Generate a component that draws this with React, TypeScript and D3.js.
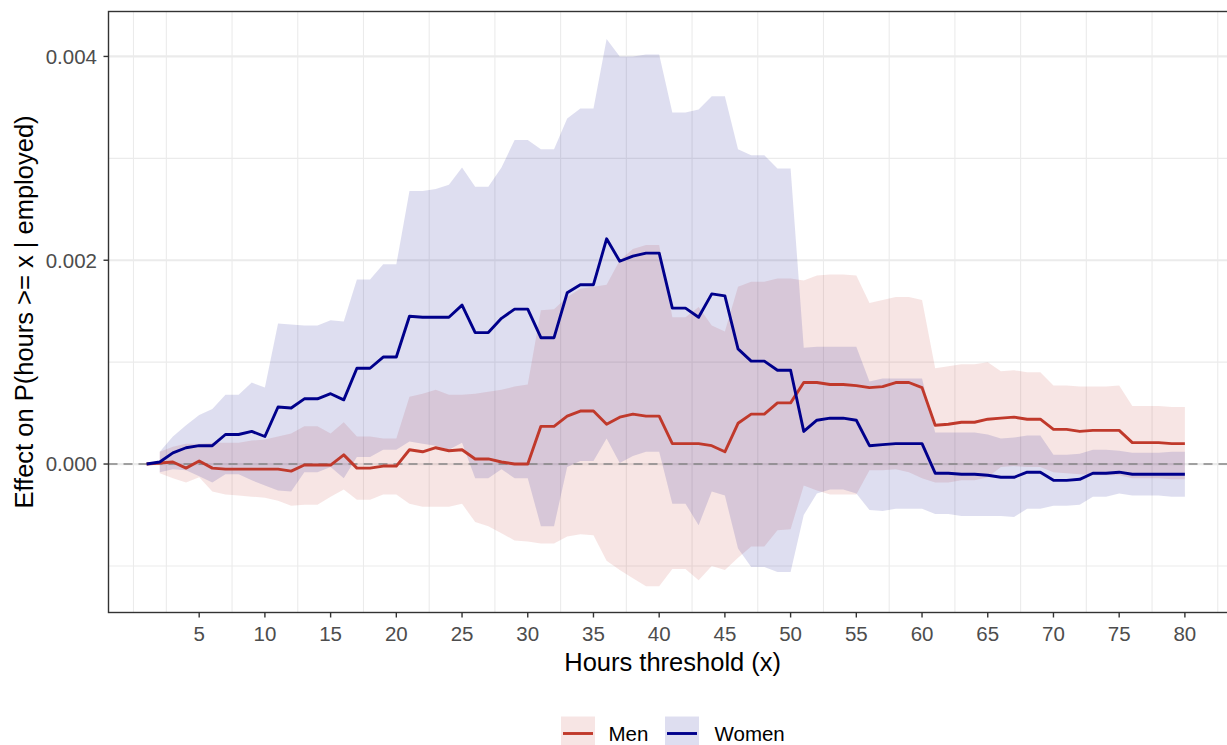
import React from "react";
import * as d3 from "d3";

// Hours threshold x (categories along the horizontal axis)
const hours = [
  1, 2, 3, 4, 5, 6, 7, 8, 9, 10, 11, 12, 13, 14, 15, 16, 17, 18, 19, 20,
  21, 22, 23, 24, 25, 26, 27, 28, 29, 30, 31, 32, 33, 34, 35, 36, 37, 38, 39, 40,
  41, 42, 43, 44, 45, 46, 47, 48, 49, 50, 51, 52, 53, 54, 55, 56, 57, 58, 59, 60,
  61, 62, 63, 64, 65, 66, 67, 68, 69, 70, 71, 72, 73, 74, 75, 76, 77, 78, 79, 80,
];

// Men: point estimate and confidence band
const menEstimate = [
  0, 0.00001, 0.00002, -0.00004, 0.00003, -0.00004, -0.00005, -0.00005, -0.00005, -0.00005,
  -0.00005, -0.00007, -0.00001, -0.00001, -0.00001, 0.00009, -0.00004, -0.00004, -0.00002, -0.00002,
  0.00014, 0.00012, 0.00016, 0.00013, 0.00014, 0.00005, 0.00005, 0.00002, 0, 0,
  0.00037, 0.00037, 0.00047, 0.00052, 0.00052, 0.00039, 0.00046, 0.00049, 0.00047, 0.00047,
  0.0002, 0.0002, 0.0002, 0.00018, 0.00012, 0.0004, 0.00049, 0.00049, 0.0006, 0.0006,
  0.0008, 0.0008, 0.00078, 0.00078, 0.00077, 0.00075, 0.00076, 0.0008, 0.0008, 0.00075,
  0.00038, 0.00039, 0.00041, 0.00041, 0.00044, 0.00045, 0.00046, 0.00044, 0.00044, 0.00034,
  0.00034, 0.00032, 0.00033, 0.00033, 0.00033, 0.00021, 0.00021, 0.00021, 0.0002, 0.0002,
];
const menLower = [
  null, -0.00009, -0.00014, -0.00018, -0.00013, -0.00027, -0.0003, -0.00031, -0.00032, -0.00033,
  -0.00036, -0.00041, -0.0004, -0.0004, -0.00032, -0.00025, -0.00035, -0.00035, -0.0003, -0.0003,
  -0.00039, -0.00042, -0.00042, -0.00042, -0.00039, -0.00057, -0.00061, -0.00068, -0.00075, -0.00076,
  -0.00078, -0.00078, -0.00071, -0.00069, -0.0007, -0.00095, -0.00104, -0.00112, -0.0012, -0.0012,
  -0.00103, -0.00103, -0.00114, -0.001, -0.00104, -0.00092, -0.00081, -0.00081, -0.00065, -0.00064,
  -0.00021, -0.00026, -0.0003, -0.0003, -0.0003, -0.00006, -0.00006, -0.00005, -0.00008, -0.00014,
  -0.00018, -0.00018, -0.00016, -0.00016, -0.00013, -0.00003, -0.00002, -0.00003, -0.00003, -0.00008,
  -0.00009, -0.0001, -0.00011, -0.00011, -0.00011, -0.00014, -0.00014, -0.00014, -0.00015, -0.00015,
];
const menUpper = [
  null, 0.00012, 0.00017, 0.0002, 0.0002, 0.00021, 0.00021, 0.00021, 0.00023, 0.00024,
  0.00027, 0.0003, 0.00037, 0.00037, 0.0003, 0.00041, 0.00027, 0.00027, 0.00025, 0.00025,
  0.00066, 0.00069, 0.00073, 0.00068, 0.00068, 0.00069, 0.00071, 0.00073, 0.00076, 0.00078,
  0.00151, 0.00152, 0.00164, 0.00172, 0.00174, 0.00176, 0.002, 0.00211, 0.00215, 0.00215,
  0.00144, 0.00144, 0.00154, 0.00136, 0.0013, 0.00174, 0.00179, 0.00179, 0.00182, 0.00182,
  0.0018, 0.00185, 0.00186, 0.00186, 0.00185, 0.00158, 0.00161, 0.00164, 0.00164, 0.00161,
  0.00094, 0.00096, 0.00098, 0.00098, 0.001, 0.00091, 0.00092, 0.0009, 0.0009, 0.00077,
  0.00077, 0.00076, 0.00076, 0.00076, 0.00077, 0.00057, 0.00057, 0.00057, 0.00056, 0.00056,
];

// Women: point estimate and confidence band
const womenEstimate = [
  0, 0.00002, 0.00011, 0.00016, 0.00018, 0.00018, 0.00029, 0.00029, 0.00032, 0.00027,
  0.00056, 0.00055, 0.00064, 0.00064, 0.00069, 0.00063, 0.00094, 0.00094, 0.00105, 0.00105,
  0.00145, 0.00144, 0.00144, 0.00144, 0.00156, 0.00129, 0.00129, 0.00143, 0.00152, 0.00152,
  0.00124, 0.00124, 0.00168, 0.00176, 0.00176, 0.00221, 0.00199, 0.00204, 0.00207, 0.00207,
  0.00153, 0.00153, 0.00144, 0.00167, 0.00165, 0.00113, 0.00101, 0.00101, 0.00092, 0.00092,
  0.00032, 0.00043, 0.00045, 0.00045, 0.00043, 0.00018, 0.00019, 0.0002, 0.0002, 0.0002,
  -0.00009, -0.00009, -0.0001, -0.0001, -0.00011, -0.00013, -0.00013, -0.00008, -0.00008, -0.00016,
  -0.00016, -0.00015, -0.00009, -0.00009, -0.00008, -0.0001, -0.0001, -0.0001, -0.0001, -0.0001,
];
const womenLower = [
  null, -0.00008, -0.00005, -0.00006, -0.00012, -0.00018, -0.0001, -0.0001, -0.00016, -0.00021,
  -0.00026, -0.00027, -0.00008, -0.00008, -0.00003, -0.00014, 0.00007, 0.00007, 0.00014, 0.00014,
  0.00022, 0.0002, 0.00018, 0.00014, 0.00021, -0.00014, -0.00014, -0.00005, -0.00014, -0.00014,
  -0.00061, -0.00061, -0.00003, 0.00003, 0.00003, 0.00025, 0.00001, 0.00008, 0.00012, 0.00012,
  -0.00039, -0.00039, -0.0006, -0.00027, -0.00031, -0.00083, -0.00101, -0.00101, -0.00106, -0.00106,
  -0.0005, -0.00029, -0.00025, -0.00025, -0.00029, -0.00045, -0.00046, -0.00044, -0.00044, -0.00044,
  -0.00049, -0.00049, -0.00051, -0.00051, -0.00051, -0.00051, -0.00052, -0.00044, -0.00044, -0.00041,
  -0.00041, -0.0004, -0.00032, -0.00032, -0.00029, -0.00031, -0.00031, -0.00031, -0.00032, -0.00032,
];
const womenUpper = [
  null, 0.00012, 0.00027, 0.00038, 0.00048, 0.00054, 0.00068, 0.00068, 0.0008, 0.00075,
  0.00138, 0.00137, 0.00136, 0.00136, 0.00141, 0.0014, 0.00181, 0.00181, 0.00196, 0.00196,
  0.00268, 0.00268, 0.0027, 0.00274, 0.00291, 0.00272, 0.00272, 0.00291, 0.00318, 0.00318,
  0.00309, 0.00309, 0.00339, 0.00349, 0.00349, 0.00417, 0.004, 0.004, 0.00402, 0.00402,
  0.00345, 0.00345, 0.00348, 0.00361, 0.00361, 0.00309, 0.00303, 0.00303, 0.0029, 0.0029,
  0.00114, 0.00115, 0.00115, 0.00115, 0.00115, 0.00081, 0.00084, 0.00084, 0.00084, 0.00084,
  0.00031, 0.00031, 0.00031, 0.00031, 0.00029, 0.00025, 0.00026, 0.00028, 0.00028, 0.00009,
  0.00009, 0.0001, 0.00014, 0.00014, 0.00013, 0.00011, 0.00011, 0.00011, 0.00012, 0.00012,
];

// Axis ticks and legend entries
const xTickValues = [5, 10, 15, 20, 25, 30, 35, 40, 45, 50, 55, 60, 65, 70, 75, 80];
const yTickValues = [0, 0.002, 0.004];
const yTickLabels = ["0.000", "0.002", "0.004"];
const yMinorValues = [-0.001, 0.001, 0.003];
const xMinorValues = [0, 2.5, 7.5, 12.5, 17.5, 22.5, 27.5, 32.5, 37.5, 42.5, 47.5, 52.5, 57.5, 62.5, 67.5, 72.5, 77.5, 82.5];
const seriesNames = ["Men", "Women"];

const WIDTH = 1227;
const HEIGHT = 745;
const FONT = "'Liberation Sans', Arial, Helvetica, sans-serif";

const MEN_COLOR = "#C0392B";
const WOMEN_COLOR = "#00008B";
const BAND_OPACITY = 0.13;

export default function App() {
  const left = 108.5;
  const right = 1236.8;
  const top = 11.5;
  const bottom = 612.5;

  const x = d3.scaleLinear().domain([-1.9, 83.95]).range([left, right]);
  const y = d3.scaleLinear().domain([-0.001457, 0.004441]).range([bottom, top]);

  const idx = d3.range(hours.length);

  const band = (lo: (number | null)[], hi: (number | null)[]) =>
    d3
      .area<number>()
      .defined((i) => lo[i] != null && hi[i] != null)
      .x((i) => x(hours[i]))
      .y0((i) => y(lo[i] as number))
      .y1((i) => y(hi[i] as number))(idx) || "";

  const line = (v: number[]) =>
    d3
      .line<number>()
      .x((i) => x(hours[i]))
      .y((i) => y(v[i]))(idx) || "";

  const series = [
    { name: seriesNames[0], color: MEN_COLOR, est: menEstimate, lo: menLower, hi: menUpper },
    { name: seriesNames[1], color: WOMEN_COLOR, est: womenEstimate, lo: womenLower, hi: womenUpper },
  ];

  const legendKeyX = [561, 665];
  const legendTextX = [608.5, 714.5];

  return (
    <svg
      width={WIDTH}
      height={HEIGHT}
      style={{ position: "absolute", left: 0, top: 0, display: "block" }}
      fontFamily={FONT}
    >
      <defs>
        <clipPath id="panel-clip">
          <rect x={left} y={top} width={right - left} height={bottom - top} />
        </clipPath>
      </defs>
      <rect x={0} y={0} width={WIDTH} height={HEIGHT} fill="#ffffff" />

      {/* grid */}
      <g clipPath="url(#panel-clip)">
        {xMinorValues.map((v) => (
          <line key={"xm" + v} x1={x(v)} x2={x(v)} y1={top} y2={bottom} stroke="#ebebeb" strokeWidth={1.1} />
        ))}
        {yMinorValues.map((v) => (
          <line key={"ym" + v} x1={left} x2={right} y1={y(v)} y2={y(v)} stroke="#ebebeb" strokeWidth={1.1} />
        ))}
        {yTickValues.map((v) => (
          <line key={"yM" + v} x1={left} x2={right} y1={y(v)} y2={y(v)} stroke="#ebebeb" strokeWidth={2.2} />
        ))}
      </g>

      {/* confidence bands */}
      <g clipPath="url(#panel-clip)">
        {series.map((s) => (
          <path key={"band" + s.name} d={band(s.lo, s.hi)} fill={s.color} fillOpacity={BAND_OPACITY} stroke="none" />
        ))}
      </g>

      {/* zero reference */}
      <line
        x1={left}
        x2={right}
        y1={y(0)}
        y2={y(0)}
        stroke="#808080"
        strokeOpacity={0.7}
        strokeWidth={2}
        strokeDasharray="9,6"
      />

      {/* estimates */}
      <g clipPath="url(#panel-clip)">
        {series.map((s) => (
          <path
            key={"line" + s.name}
            d={line(s.est)}
            fill="none"
            stroke={s.color}
            strokeWidth={2.9}
            strokeLinejoin="round"
          />
        ))}
      </g>

      {/* panel border */}
      <rect x={left} y={top} width={right - left} height={bottom - top} fill="none" stroke="#333333" strokeWidth={1.4} />

      {/* y axis */}
      {yTickValues.map((v, i) => (
        <g key={"yt" + v}>
          <line x1={left - 5} x2={left} y1={y(v)} y2={y(v)} stroke="#333333" strokeWidth={1.4} />
          <text x={left - 11.5} y={y(v)} dy="0.36em" textAnchor="end" fontSize={20.5} fill="#4d4d4d">
            {yTickLabels[i]}
          </text>
        </g>
      ))}

      {/* x axis */}
      {xTickValues.map((v) => (
        <g key={"xt" + v}>
          <line x1={x(v)} x2={x(v)} y1={bottom} y2={bottom + 5} stroke="#333333" strokeWidth={1.4} />
          <text x={x(v)} y={641} textAnchor="middle" fontSize={20.5} fill="#4d4d4d">
            {v}
          </text>
        </g>
      ))}

      {/* axis titles */}
      <text x={(left + right) / 2} y={671} textAnchor="middle" fontSize={25.5} fill="#000000">
        Hours threshold (x)
      </text>
      <text
        transform={`translate(33, ${(top + bottom) / 2}) rotate(-90)`}
        textAnchor="middle"
        fontSize={25.5}
        fill="#000000"
      >
        Effect on P(hours &gt;= x | employed)
      </text>

      {/* legend */}
      {series.map((s, i) => (
        <g key={"lg" + s.name}>
          <rect x={legendKeyX[i]} y={716.5} width={34} height={34} fill={s.color} fillOpacity={BAND_OPACITY} />
          <line
            x1={legendKeyX[i] + 2}
            x2={legendKeyX[i] + 32}
            y1={733.5}
            y2={733.5}
            stroke={s.color}
            strokeWidth={2.9}
          />
          <text x={legendTextX[i]} y={741} fontSize={20.5} fill="#000000">
            {s.name}
          </text>
        </g>
      ))}
    </svg>
  );
}
